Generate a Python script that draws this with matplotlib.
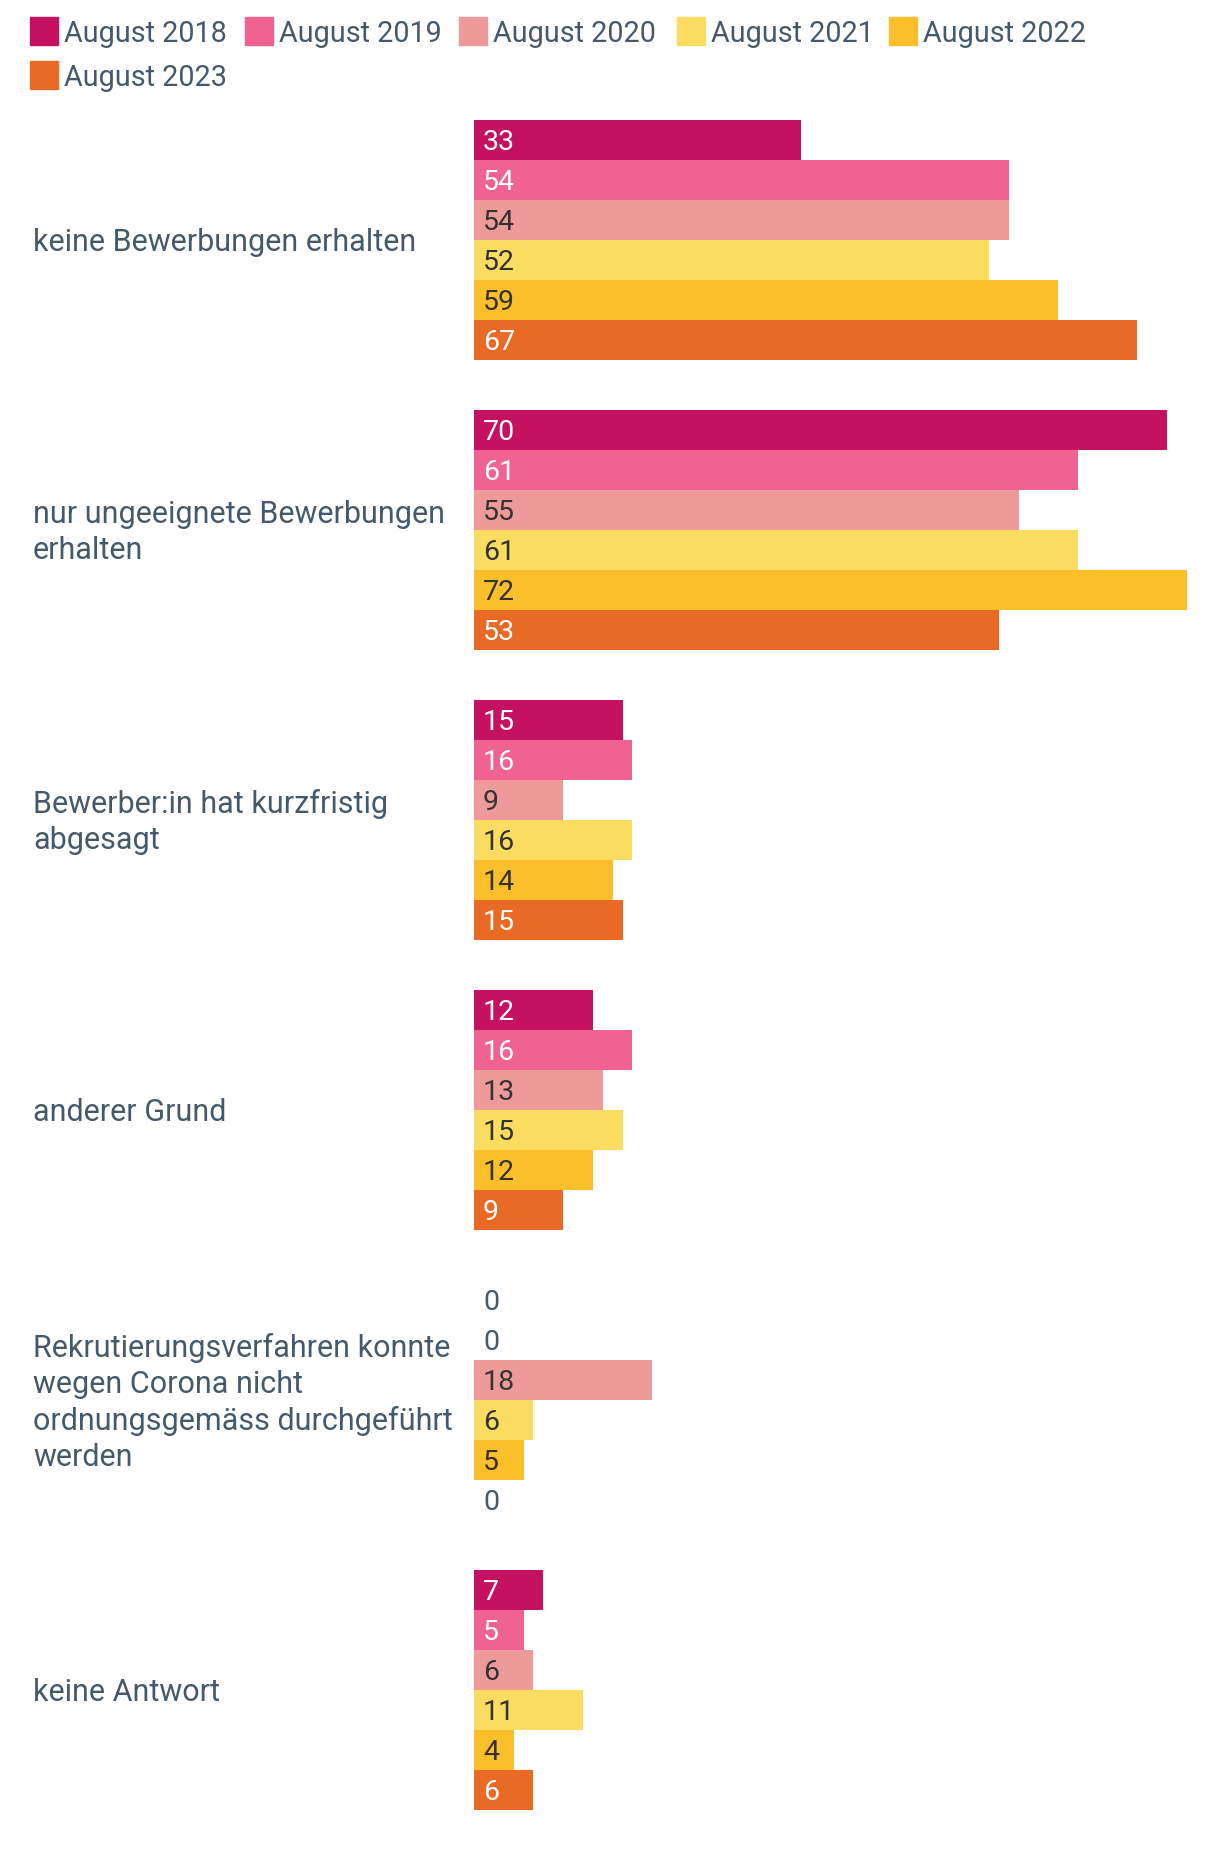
import matplotlib
matplotlib.use("Agg")
import matplotlib.pyplot as plt
from matplotlib.patches import Rectangle
from matplotlib.transforms import blended_transform_factory

categories = [
    "keine Bewerbungen erhalten",
    "nur ungeeignete Bewerbungen\nerhalten",
    "Bewerber:in hat kurzfristig\nabgesagt",
    "anderer Grund",
    "Rekrutierungsverfahren konnte\nwegen Corona nicht\nordnungsgemäss durchgeführt\nwerden",
    "keine Antwort",
]
series_labels = ["August 2018", "August 2019", "August 2020",
                 "August 2021", "August 2022", "August 2023"]
aug2018 = [33, 70, 15, 12, 0, 7]
aug2019 = [54, 61, 16, 16, 0, 5]
aug2020 = [54, 55, 9, 13, 18, 6]
aug2021 = [52, 61, 16, 15, 6, 11]
aug2022 = [59, 72, 14, 12, 5, 4]
aug2023 = [67, 53, 15, 9, 0, 6]
series = [aug2018, aug2019, aug2020, aug2021, aug2022, aug2023]

colors = ["#C51260", "#F06292", "#EE9A9A", "#F9DC60", "#FABF2A", "#E86A24"]
label_colors = ["white", "white", "#333333", "#333333", "#333333", "white"]
slate = "#46596B"
FONT = "Roboto"
FS_VAL = 20.5
FS_CAT = 22
FS_LEG = 20.7

W, H = 1220, 1862
fig = plt.figure(figsize=(W / 100, H / 100), dpi=100)

ax_left, ax_right = 474, 1220
ax_top, ax_bot = 120, 1810
ax = fig.add_axes([ax_left / W, 1 - ax_bot / H, (ax_right - ax_left) / W, (ax_bot - ax_top) / H])
px_per_unit = 9.9
ax.set_xlim(0, (ax_right - ax_left) / px_per_unit)
group_step = 7.25
n = len(series)
total = (len(categories) - 1) * group_step + n
ax.set_ylim(total, 0)
ax.axis("off")

cap_units = 0.711 * FS_VAL * 100 / 72 / 40 / 2  # half cap height in data units
blend = blended_transform_factory(fig.transFigure, ax.transData)

for g, cat in enumerate(categories):
    for i, s in enumerate(series):
        yc = g * group_step + i + 0.5
        v = s[g]
        ax.barh(yc, v, height=1.0, color=colors[i], edgecolor="none")
        tc = label_colors[i] if v > 0 else slate
        ax.text(0.9, yc + cap_units, str(v), va="baseline", ha="left", fontsize=FS_VAL,
                color=tc, family=FONT)
    gc = g * group_step + n / 2 + 0.06
    ax.text(33 / W, gc, cat, transform=blend, va="center", ha="left",
            fontsize=FS_CAT, color=slate, family=FONT, linespacing=1.3)

# legend (manual, two rows)
leg_x = [30, 245, 459, 677, 889, 30]
leg_y = [17, 17, 17, 17, 17, 61]
for i, lab in enumerate(series_labels):
    x0, y0 = leg_x[i], leg_y[i]
    fig.patches.append(Rectangle((x0 / W, 1 - (y0 + 28) / H), 28 / W, 28 / H,
                                 transform=fig.transFigure, color=colors[i]))
    fig.text((x0 + 34) / W, 1 - (y0 + 25) / H, lab, va="baseline", ha="left",
             fontsize=FS_LEG, color=slate, family=FONT)

fig.savefig("out.png", dpi=100)
